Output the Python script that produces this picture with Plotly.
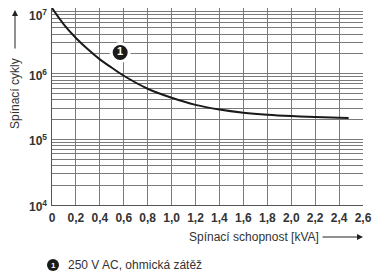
import plotly.graph_objects as go

# Data
kva = [0, 0.1, 0.2, 0.3, 0.4, 0.5, 0.6, 0.8, 1.0, 1.2, 1.4, 1.6, 1.8, 2.0, 2.2, 2.4, 2.48]
cycles = [1e7, 5.6e6, 3.5e6, 2.35e6, 1.65e6, 1.23e6, 9.3e5, 5.9e5, 4.3e5, 3.35e5, 2.85e5,
          2.55e5, 2.37e5, 2.26e5, 2.19e5, 2.14e5, 2.12e5]
label_x = [0.57]
label_y = [2.1e6]
label_text = ["<b>1</b>"]

x_ticks = [0, 0.2, 0.4, 0.6, 0.8, 1.0, 1.2, 1.4, 1.6, 1.8, 2.0, 2.2, 2.4, 2.6]
x_ticktext = ["0", "0,2", "0,4", "0,6", "0,8", "1,0", "1,2", "1,4", "1,6", "1,8",
              "2,0", "2,2", "2,4", "2,6"]
decades = [4, 5, 6, 7]

y_tickvals = [10 ** d for d in decades]
y_ticktext = [f"<b>10<sup>{d}</sup></b>" for d in decades]
y_minor = [m * 10 ** d for d in decades[:-1] for m in range(2, 10)]

W, H = 374, 274
L, R, T, B = 52, 11, 8, 69
pw, ph = W - L - R, H - T - B


def px(xp):
    return (xp - L) / pw


def py(yp):
    return (H - B - yp) / ph


fig = go.Figure()
fig.add_trace(go.Scatter(x=kva, y=cycles, mode="lines", line=dict(color="#1a1a1a", width=2, shape="spline"),
                         hoverinfo="skip", cliponaxis=False))
fig.add_trace(go.Scatter(x=label_x, y=label_y, mode="markers+text", text=label_text,
                         textposition="middle center",
                         textfont=dict(color="white", size=11, family="Liberation Sans"),
                         marker=dict(size=18, color="#1a1a1a", line=dict(color="white", width=3)),
                         hoverinfo="skip"))

grid = "#7a7a7a"
fig.update_layout(
    width=W, height=H, autosize=False,
    margin=dict(l=L, r=R, t=T, b=B, pad=0),
    paper_bgcolor="white", plot_bgcolor="white",
    showlegend=False,
    font=dict(family="Liberation Sans", color="#333333"),
    xaxis=dict(range=[0, 2.6], tickvals=x_ticks, ticktext=["<b>" + t + "</b>" for t in x_ticktext],
               showgrid=True, gridcolor=grid, gridwidth=1, zeroline=False, automargin=False,
               showline=True, linecolor="#555555", linewidth=1, mirror=False,
               ticks="outside", ticklen=2, tickcolor="rgba(0,0,0,0)",
               tickfont=dict(size=12, color="#333333"), fixedrange=True),
    yaxis=dict(type="log", range=[4, 7.0005], tickvals=y_tickvals,
               showticklabels=False,
               showgrid=True, gridcolor=grid, gridwidth=1, zeroline=False, automargin=False,
               showline=True, linecolor="#555555", linewidth=1,
               minor=dict(tickmode="array", tickvals=y_minor, showgrid=True, gridcolor=grid,
                          gridwidth=1, ticks=""),
               ticks="", fixedrange=True),
)

ann = []
# y tick labels (placed on the log axis scale)
for d, t in zip(decades, y_ticktext):
    ann.append(dict(xref="paper", yref="y", x=px(49), y=d, xanchor="right", yanchor="middle",
                    text=t, showarrow=False, yshift=(-7 if d == 7 else -1),
                    font=dict(size=12, color="#333333")))
# y-axis title with arrow
ann.append(dict(xref="paper", yref="paper", x=px(15), y=py(94), xanchor="center", yanchor="middle",
                text="Spínací cykly", textangle=-90,
                showarrow=False, font=dict(size=12, color="#333333")))
ann.append(dict(xref="paper", yref="paper", x=px(15), y=py(10), text="", showarrow=True,
                ax=0, ay=40, arrowhead=2, arrowsize=1.2, arrowwidth=1, arrowcolor="#222222"))
# x-axis title with arrow
ann.append(dict(xref="paper", yref="paper", x=px(254), y=py(237), xanchor="center", yanchor="middle",
                text="Spínací schopnost [kVA]",
                showarrow=False, font=dict(size=12, color="#333333")))
ann.append(dict(xref="paper", yref="paper", x=px(363), y=py(237), text="", showarrow=True,
                ax=-42, ay=0, arrowhead=2, arrowsize=1.2, arrowwidth=1, arrowcolor="#222222"))
# footnote
ann.append(dict(xref="paper", yref="paper", x=px(53), y=py(265), xanchor="center", yanchor="middle",
                text="<b>1</b>", showarrow=False,
                font=dict(size=8, color="white")))
ann.append(dict(xref="paper", yref="paper", x=px(66), y=py(265), xanchor="left", yanchor="middle",
                text="250 V AC, ohmická zátěž", showarrow=False,
                font=dict(size=12, color="#333333")))
fig.update_layout(annotations=ann)

fig.add_shape(type="circle", xref="paper", yref="paper",
              x0=px(47), x1=px(59), y0=py(271), y1=py(259),
              fillcolor="#1a1a1a", line=dict(width=0), layer="below")

fig.write_html("out.html",
               config={"displayModeBar": False, "staticPlot": True},
               post_script="document.body.style.margin='0px';document.body.style.overflow='hidden';")
